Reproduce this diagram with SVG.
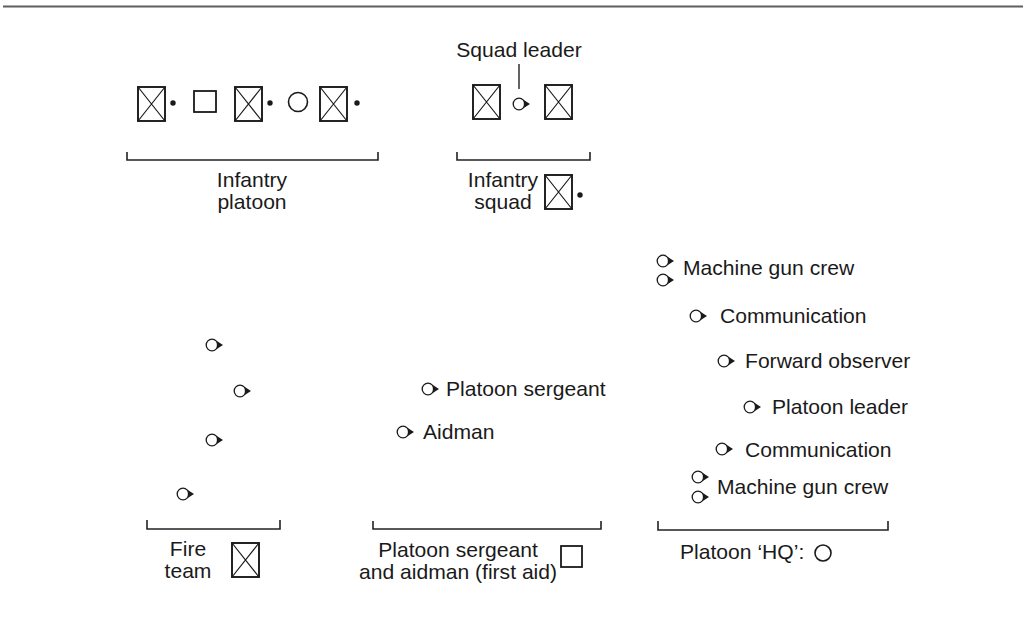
<svg xmlns="http://www.w3.org/2000/svg" xmlns:xlink="http://www.w3.org/1999/xlink" width="1023" height="619" viewBox="0 0 1023 619">
<style>
text{font-family:"Liberation Sans",Arial,sans-serif;font-size:21.1px;fill:#1a1a1a}
.m{text-anchor:middle}
.br{fill:none;stroke:#222;stroke-width:1.6}
.ln{fill:none;stroke:#222;stroke-width:1.4}
.sq{fill:#fff;stroke:#1a1a1a;stroke-width:1.8}
.dot{fill:#1a1a1a}
</style>
<defs>
<g id="pt"><circle r="5.8" fill="#fff" stroke="#1a1a1a" stroke-width="1.3"/><path d="M4.8,-4L11,0L4.8,4Z" fill="#1a1a1a"/></g>
<g id="xb"><rect x="0" y="0" width="27" height="34" fill="#fff" stroke="#1a1a1a" stroke-width="1.9"/><path d="M0,0L27,34M27,0L0,34" stroke="#1a1a1a" stroke-width="1.2"/></g>
</defs>
<rect width="1023" height="619" fill="#fff"/>
<line x1="3" y1="6.5" x2="1023" y2="6.5" stroke="#5f5f5f" stroke-width="2"/>
<g id="platoon">
<use xlink:href="#xb" x="138" y="87"/><circle class="dot" cx="173" cy="103" r="2.7"/>
<rect class="sq" x="194" y="91" width="22" height="21"/>
<use xlink:href="#xb" x="235" y="87"/><circle class="dot" cx="270" cy="103" r="2.7"/>
<circle cx="298" cy="102" r="9.5" fill="#fff" stroke="#1a1a1a" stroke-width="1.6"/>
<use xlink:href="#xb" x="320" y="87"/><circle class="dot" cx="357" cy="103" r="2.7"/>
<path class="br" d="M127,152V160H378V152"/>
<text class="m" x="252" y="187">Infantry</text>
<text class="m" x="252" y="209">platoon</text>
</g>
<g id="squad">
<text class="m" x="519" y="57">Squad leader</text>
<line class="ln" x1="519" y1="64" x2="519" y2="89"/>
<use xlink:href="#xb" x="473" y="85"/>
<use xlink:href="#pt" x="519" y="104"/>
<use xlink:href="#xb" x="545" y="85"/>
<path class="br" d="M457,152V160H590V152"/>
<text class="m" x="503" y="187">Infantry</text>
<text class="m" x="503" y="209">squad</text>
<use xlink:href="#xb" x="545" y="175"/><circle class="dot" cx="580" cy="195" r="2.7"/>
</g>
<g id="fireteam">
<use xlink:href="#pt" x="212" y="345"/>
<use xlink:href="#pt" x="240" y="391"/>
<use xlink:href="#pt" x="212" y="440"/>
<use xlink:href="#pt" x="183" y="494"/>
<path class="br" d="M147,520V529H280V520"/>
<text class="m" x="188" y="556">Fire</text>
<text class="m" x="188" y="578">team</text>
<use xlink:href="#xb" x="232" y="543"/>
</g>
<g id="sergeant">
<use xlink:href="#pt" x="428" y="389"/><text x="446" y="396">Platoon sergeant</text>
<use xlink:href="#pt" x="403" y="432"/><text x="423" y="439">Aidman</text>
<path class="br" d="M373,521V529H601V521"/>
<text class="m" x="458" y="557">Platoon sergeant</text>
<text class="m" x="458" y="579">and aidman (first aid)</text>
<rect class="sq" x="561" y="546" width="21" height="21"/>
</g>
<g id="hq">
<use xlink:href="#pt" x="663" y="261"/><use xlink:href="#pt" x="663" y="280"/>
<text x="683" y="275">Machine gun crew</text>
<use xlink:href="#pt" x="696" y="316"/><text x="720" y="323">Communication</text>
<use xlink:href="#pt" x="724" y="361"/><text x="745" y="368">Forward observer</text>
<use xlink:href="#pt" x="750" y="407"/><text x="772" y="414">Platoon leader</text>
<use xlink:href="#pt" x="722" y="449"/><text x="745" y="457">Communication</text>
<use xlink:href="#pt" x="698" y="477"/><use xlink:href="#pt" x="698" y="497"/>
<text x="717" y="494">Machine gun crew</text>
<path class="br" d="M658,521V530H888V521"/>
<text x="680" y="559">Platoon ‘HQ’:</text>
<circle cx="823" cy="553" r="8" fill="#fff" stroke="#1a1a1a" stroke-width="1.6"/>
</g>
</svg>
